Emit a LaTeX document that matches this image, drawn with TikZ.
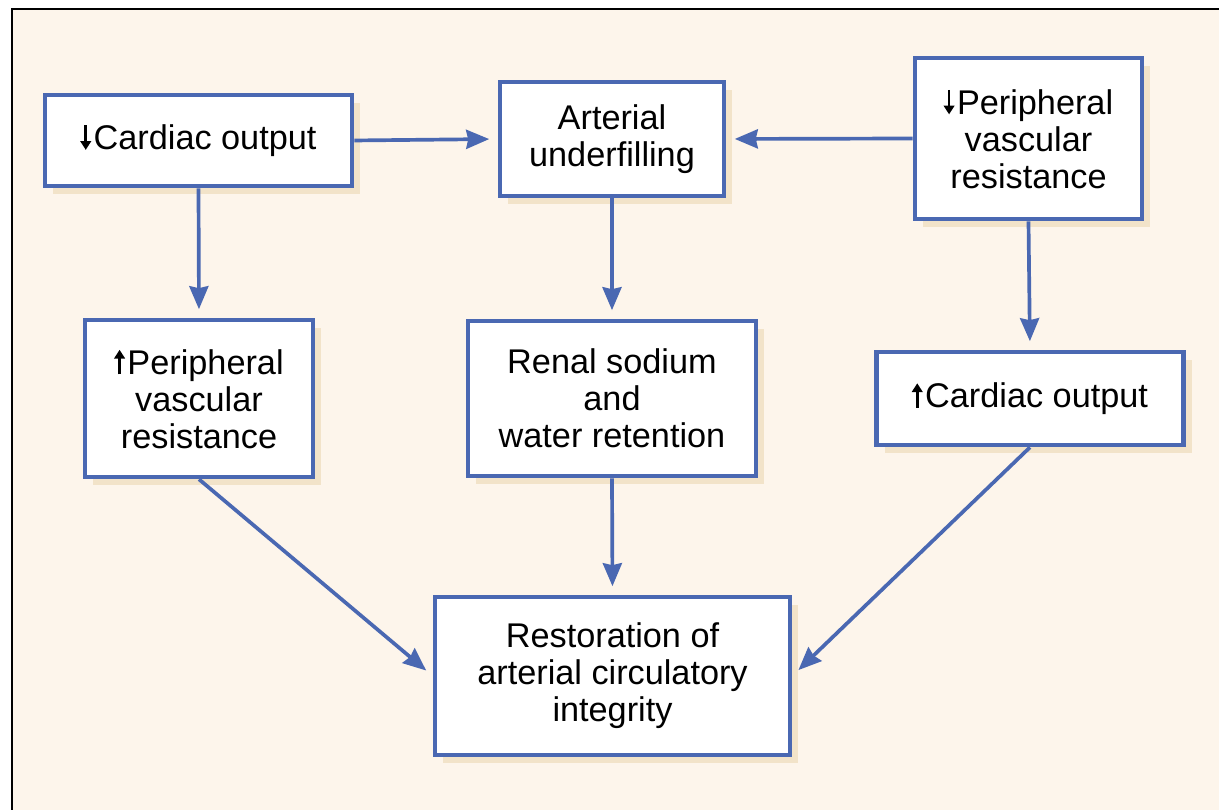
\documentclass[tikz,border=0pt]{standalone}
\usepackage{fontspec}
\setmainfont{Liberation Sans}
\usetikzlibrary{arrows.meta,shadows}

\definecolor{cream}{HTML}{FDF5EB}
\definecolor{shade}{HTML}{F2E3C9}
\definecolor{boxblue}{HTML}{4A68B2}

% small bold arrows in front of the labels
\newcommand{\dn}{\tikz[baseline=0pt] \draw [black, line width=1.5pt, -{Triangle[length=5pt, width=6pt]}] (0, 14pt) -- (0, 0);\hspace{1.5pt}}
\newcommand{\up}{\tikz[baseline=0pt] \draw [black, line width=1.5pt, -{Triangle[length=5pt, width=6pt]}] (0, 0) -- (0, 14pt);\hspace{1.5pt}}

\tikzset{
    box/.style={draw=boxblue, line width=2.6pt, fill=white, align=center,
        inner sep=0pt, font=\fontsize{19.5}{21}\selectfont,
        drop shadow={shadow xshift=0.16cm, shadow yshift=-0.16cm, fill=shade, opacity=1}},
    link/.style={draw=boxblue, line width=2.1pt, shorten >=0.17cm,
        -{Stealth[length=0.46cm, width=0.38cm, inset=0.04cm]}}
}

\begin{document}
\begin{tikzpicture}
        \clip (0, 0) rectangle (24.38, 16.2);
        \fill [white] (0, 0) rectangle (24.38, 16.2);
        \draw [fill=cream, line width=1pt] (0.24, -1) rectangle (26, 16.02);

        % top row
        \node [box, minimum width=6.14cm, minimum height=1.82cm] (co1) at (3.97, 13.39) {\dn Cardiac output};
        \node [box, minimum width=4.48cm, minimum height=2.28cm] (au) at (12.24, 13.42) {Arterial\\underfilling};
        \node [box, minimum width=4.54cm, minimum height=3.22cm] (pvr1) at (20.57, 13.43) {\dn Peripheral\\vascular\\resistance};

        % middle row
        \node [box, minimum width=4.56cm, minimum height=3.14cm] (pvr2) at (3.98, 8.23) {\up Peripheral\\vascular\\resistance};
        \node [box, minimum width=5.76cm, minimum height=3.10cm] (rs) at (12.24, 8.23) {Renal sodium\\and\\water retention};
        \node [box, minimum width=6.14cm, minimum height=1.86cm] (co2) at (20.6, 8.23) {\up Cardiac output};

        % bottom
        \node [box, minimum width=7.10cm, minimum height=3.16cm] (ra) at (12.25, 2.68) {Restoration of\\arterial circulatory\\integrity};

        \draw [link] (co1.east) -- (au.west);
        \draw [link] (pvr1.west) -- (au.east);
        \draw [link] (co1.south) -- (pvr2.north);
        \draw [link] (au.south) -- (rs.north);
        \draw [link] (pvr1.south) -- (co2.north);
        \draw [link] (pvr2.south) -- (ra.west);
        \draw [link] (rs.south) -- (ra.north);
        \draw [link] (co2.south) -- (ra.east);
\end{tikzpicture}
\end{document}
